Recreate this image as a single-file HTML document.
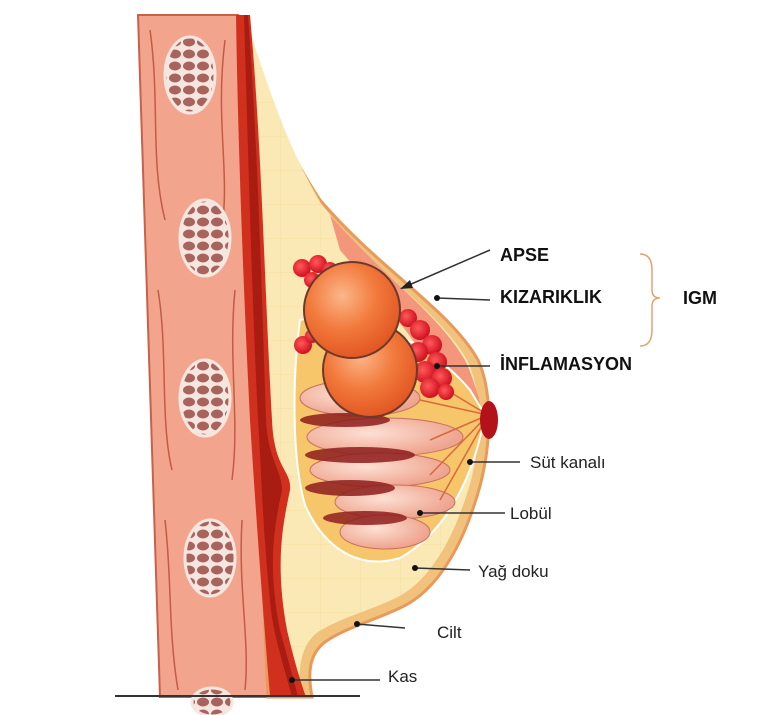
<!DOCTYPE html>
<html><head><meta charset="utf-8"><style>
body{margin:0;background:#fff;}
svg{display:block}
text{font-family:"Liberation Sans",sans-serif;font-size:17px;fill:#222}
.b{font-weight:bold;font-size:18px;fill:#111}
</style></head><body>
<svg width="768" height="715" viewBox="0 0 768 715">
<defs>
<radialGradient id="ab" cx="0.4" cy="0.35" r="0.7"><stop offset="0" stop-color="#fbb68a"/><stop offset="0.5" stop-color="#f27a3c"/><stop offset="1" stop-color="#e0521f"/></radialGradient>
<radialGradient id="rd" cx="0.4" cy="0.4" r="0.6"><stop offset="0" stop-color="#ff5a5a"/><stop offset="1" stop-color="#d01020"/></radialGradient>
<radialGradient id="pk" cx="0.4" cy="0.4" r="0.6"><stop offset="0" stop-color="#fde0d4"/><stop offset="1" stop-color="#eea48e"/></radialGradient>
<pattern id="grid" width="40" height="34" patternUnits="userSpaceOnUse"><path d="M0,0 H40 M0,0 V34" stroke="#f3d58e" stroke-width="1" fill="none" opacity="0.6"/></pattern>
<pattern id="bone" width="14" height="12" patternUnits="userSpaceOnUse"><rect width="14" height="12" fill="#f5e6e0"/><ellipse cx="7" cy="6" rx="6" ry="4.5" fill="#a8645c"/></pattern>
</defs>
<!-- chest wall -->
<path d="M138,15 L238,15 L268,697 L160,697 Z" fill="#f2a58c" stroke="#c8604a" stroke-width="2"/>
<g stroke="#c55a45" stroke-width="1.5" fill="none">
<path d="M150,30 C160,100 150,160 165,220"/><path d="M225,40 C215,120 230,170 222,230"/>
<path d="M158,290 C168,350 160,420 172,470"/><path d="M235,290 C228,360 240,420 232,480"/>
<path d="M165,520 C172,580 168,630 178,690"/><path d="M242,520 C238,590 250,640 245,690"/>
</g>
<g fill="url(#bone)" stroke="#f5e6e0" stroke-width="3">
<ellipse cx="190" cy="75" rx="25" ry="38"/>
<ellipse cx="205" cy="238" rx="25" ry="38"/>
<ellipse cx="205" cy="398" rx="25" ry="38"/>
<ellipse cx="210" cy="558" rx="25" ry="38"/>
<ellipse cx="212" cy="702" rx="20" ry="14"/>
</g>
<!-- skin/breast -->
<path d="M238,15 C260,80 280,140 320,200 C380,270 450,310 478,360 C492,390 492,440 480,486 C465,540 440,590 400,608 C370,622 345,628 325,642 C308,655 308,675 312,697 L268,697 Z" fill="#f0c27c" stroke="#e89a5a" stroke-width="3"/>
<path d="M246,20 C268,85 285,143 322,205 C378,274 444,316 468,362 C482,392 482,440 470,484 C455,535 432,580 396,598 C366,612 340,618 318,632 C300,645 298,670 300,697 L270,697 Z" fill="#fbe9b5"/>
<path d="M246,20 C268,85 285,143 322,205 C378,274 444,316 468,362 C482,392 482,440 470,484 C455,535 432,580 396,598 C366,612 340,618 318,632 C300,645 298,670 300,697 L270,697 Z" fill="url(#grid)"/>
<!-- red area near skin -->
<path d="M330,215 C385,278 440,315 466,362 C478,390 482,410 482,420 L450,400 C430,360 400,320 340,250 Z" fill="#f07a6a" opacity="0.75"/>
<!-- muscle -->
<path d="M236,15 L250,15 C262,150 265,300 272,420 C274,470 292,470 290,490 C284,520 274,560 287,630 C294,660 300,680 306,697 L270,697 C262,600 255,500 250,420 C244,300 238,150 236,15 Z" fill="#d2301e"/>
<path d="M248,15 C258,150 262,300 266,420 C268,460 282,470 282,490 C276,520 266,560 280,630 C288,660 294,680 298,697 L292,697 C282,660 272,630 270,600 C262,520 262,480 258,420 C252,300 248,150 244,15 Z" fill="#a81c12"/>
<!-- gland -->
<path d="M300,320 C340,310 420,330 470,390 L485,415 C475,470 450,530 400,558 C360,570 325,550 305,505 C292,460 292,380 300,320 Z" fill="#f7c66b" stroke="#fff" stroke-width="2"/>
<g fill="url(#pk)" stroke="#c8705e" stroke-width="1">
<ellipse cx="360" cy="398" rx="60" ry="18"/>
<ellipse cx="385" cy="437" rx="78" ry="19"/>
<ellipse cx="380" cy="470" rx="70" ry="17"/>
<ellipse cx="395" cy="502" rx="60" ry="17"/>
<ellipse cx="385" cy="532" rx="45" ry="17"/>
</g>
<g fill="#8e1e1e" opacity="0.85">
<ellipse cx="345" cy="420" rx="45" ry="7"/>
<ellipse cx="360" cy="455" rx="55" ry="8"/>
<ellipse cx="350" cy="488" rx="45" ry="8"/>
<ellipse cx="365" cy="518" rx="42" ry="7"/>
</g>
<g stroke="#d86a3a" stroke-width="1.5">
<line x1="488" y1="415" x2="420" y2="400"/><line x1="488" y1="415" x2="430" y2="440"/><line x1="488" y1="415" x2="430" y2="475"/><line x1="488" y1="415" x2="440" y2="500"/><line x1="488" y1="415" x2="430" y2="380"/>
</g>
<ellipse cx="489" cy="420" rx="9" ry="19" fill="#b3121a"/>
<!-- inflammation dots -->
<g fill="url(#rd)">
<circle cx="302" cy="268" r="9"/><circle cx="318" cy="264" r="9"/><circle cx="330" cy="270" r="8"/><circle cx="312" cy="280" r="8"/>
<circle cx="408" cy="318" r="9"/><circle cx="420" cy="330" r="10"/><circle cx="432" cy="345" r="10"/><circle cx="418" cy="352" r="10"/><circle cx="437" cy="362" r="10"/><circle cx="425" cy="372" r="11"/><circle cx="442" cy="378" r="10"/><circle cx="430" cy="388" r="10"/><circle cx="446" cy="392" r="8"/>
<circle cx="303" cy="345" r="9"/><circle cx="312" cy="336" r="7"/>
</g>
<!-- abscess -->
<circle cx="370" cy="370" r="47" fill="url(#ab)" stroke="#6b3a2a" stroke-width="2"/>
<circle cx="352" cy="310" r="48" fill="url(#ab)" stroke="#6b3a2a" stroke-width="2"/>
<!-- leader lines -->
<g stroke="#333" stroke-width="1.5">
<line x1="490" y1="250" x2="402" y2="288"/>
<line x1="490" y1="300" x2="437" y2="298"/>
<line x1="490" y1="366" x2="437" y2="366"/>
<line x1="520" y1="462" x2="470" y2="462"/>
<line x1="505" y1="513" x2="420" y2="513"/>
<line x1="470" y1="570" x2="415" y2="568"/>
<line x1="405" y1="628" x2="357" y2="624"/>
<line x1="380" y1="680" x2="292" y2="680"/>
<line x1="115" y1="696" x2="360" y2="696" stroke-width="2"/>
</g>
<polygon points="400,289 410,280 413,288" fill="#222"/>
<g fill="#111"><circle cx="437" cy="298" r="3"/><circle cx="437" cy="366" r="3"/><circle cx="470" cy="462" r="3"/><circle cx="420" cy="513" r="3"/><circle cx="415" cy="568" r="3"/><circle cx="357" cy="624" r="3"/><circle cx="292" cy="680" r="3"/></g>
<path d="M640,254 Q652,254 652,270 L652,290 Q652,298 660,298 Q652,298 652,306 L652,330 Q652,346 640,346" fill="none" stroke="#e8a070" stroke-width="1.5"/>
<text class="b" x="500" y="261">APSE</text>
<text class="b" x="500" y="303">KIZARIKLIK</text>
<text class="b" x="500" y="370">İNFLAMASYON</text>
<text class="b" x="683" y="304">IGM</text>
<text x="530" y="468">Süt kanalı</text>
<text x="510" y="519">Lobül</text>
<text x="478" y="577">Yağ doku</text>
<text x="437" y="638">Cilt</text>
<text x="388" y="682">Kas</text>
</svg>
</body></html>
